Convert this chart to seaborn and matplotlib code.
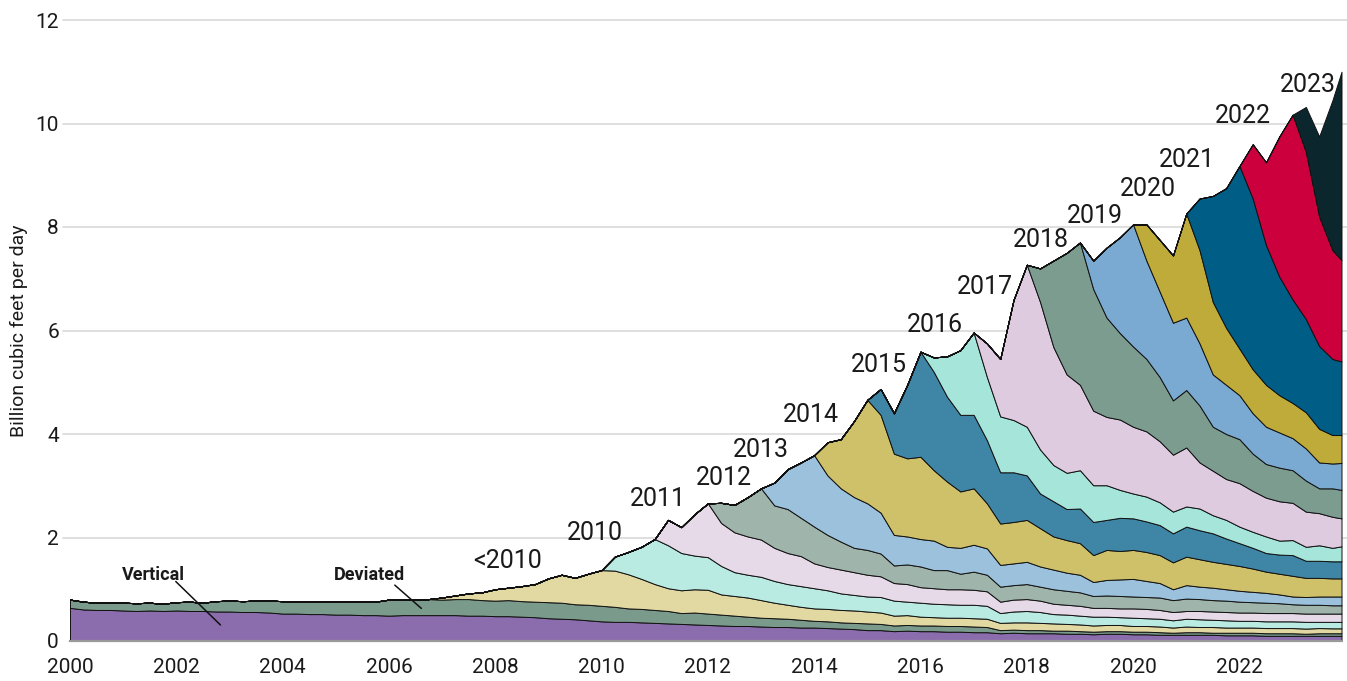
import numpy as np
import pandas as pd
import matplotlib
matplotlib.use("Agg")
import matplotlib.pyplot as plt
import seaborn as sns

# quarterly time axis, last point is Dec 2023
quarters = np.append(np.arange(2000, 2024, 0.25), 2023.92)

# production in Bcf/d by well type / first-production year
# each list starts at the quarter the group first shows up
vertical = [
    0.64, 0.61, 0.60, 0.60, 0.59, 0.58, 0.59, 0.58, 0.59, 0.58, 0.58, 0.57,
    0.57, 0.56, 0.56, 0.55, 0.53, 0.53, 0.52, 0.52, 0.51, 0.51, 0.50, 0.50,
    0.49, 0.50, 0.50, 0.50, 0.50, 0.50, 0.49, 0.49, 0.48, 0.48, 0.47, 0.46,
    0.44, 0.43, 0.42, 0.40, 0.38, 0.37, 0.37, 0.36, 0.35, 0.34, 0.33, 0.32,
    0.31, 0.30, 0.29, 0.29, 0.28, 0.27, 0.27, 0.26, 0.26, 0.25, 0.24, 0.23,
    0.21, 0.21, 0.19, 0.20, 0.19, 0.19, 0.18, 0.18, 0.17, 0.17, 0.15, 0.16,
    0.15, 0.15, 0.15, 0.14, 0.14, 0.13, 0.14, 0.14, 0.13, 0.13, 0.12, 0.12,
    0.12, 0.12, 0.12, 0.11, 0.11, 0.11, 0.10, 0.10, 0.10, 0.10, 0.10, 0.10,
    0.10,
]
deviated = [
    0.16, 0.15, 0.14, 0.14, 0.15, 0.15, 0.15, 0.14, 0.16, 0.18, 0.16, 0.20,
    0.21, 0.21, 0.22, 0.23, 0.24, 0.23, 0.25, 0.24, 0.25, 0.25, 0.27, 0.26,
    0.31, 0.30, 0.30, 0.31, 0.30, 0.31, 0.32, 0.30, 0.30, 0.31, 0.30, 0.30,
    0.31, 0.31, 0.29, 0.30, 0.30, 0.29, 0.26, 0.26, 0.25, 0.24, 0.21, 0.23,
    0.22, 0.21, 0.20, 0.18, 0.17, 0.17, 0.16, 0.15, 0.13, 0.13, 0.12, 0.12,
    0.13, 0.12, 0.11, 0.11, 0.11, 0.11, 0.11, 0.11, 0.11, 0.10, 0.06, 0.06,
    0.06, 0.06, 0.05, 0.06, 0.05, 0.05, 0.05, 0.05, 0.05, 0.05, 0.05, 0.04,
    0.05, 0.05, 0.04, 0.05, 0.05, 0.05, 0.05, 0.05, 0.05, 0.04, 0.05, 0.05,
    0.05,
]
pre_2010 = [
    0.00,
    0.04, 0.07, 0.11, 0.15, 0.22, 0.24, 0.29, 0.34, 0.46, 0.54, 0.51, 0.60,
    0.69, 0.70, 0.66, 0.58, 0.50, 0.44, 0.44, 0.45, 0.46, 0.39, 0.38, 0.37,
    0.34, 0.30, 0.27, 0.25, 0.24, 0.24, 0.24, 0.24, 0.23, 0.22, 0.19, 0.19,
    0.17, 0.16, 0.16, 0.16, 0.16, 0.16, 0.14, 0.14, 0.15, 0.14, 0.14, 0.13,
    0.13, 0.12, 0.12, 0.12, 0.11, 0.11, 0.11, 0.10, 0.11, 0.10, 0.11, 0.10,
    0.10, 0.10, 0.10, 0.10, 0.10, 0.10, 0.10, 0.095,
    0.095,
]
wells_2010 = [
    0.00, 0.27, 0.43, 0.62, 0.87, 0.83, 0.72, 0.65, 0.63, 0.55, 0.46, 0.44,
    0.45, 0.42, 0.40, 0.40, 0.39, 0.36, 0.32, 0.30, 0.29, 0.30, 0.29, 0.26,
    0.27, 0.26, 0.26, 0.25, 0.26, 0.25, 0.19, 0.21, 0.22, 0.21, 0.18, 0.18,
    0.17, 0.17, 0.16, 0.15, 0.16, 0.15, 0.15, 0.14, 0.15, 0.15, 0.14, 0.14,
    0.13, 0.13, 0.13, 0.13, 0.13, 0.13, 0.12, 0.125,
    0.125,
]
wells_2011 = [
    0.00, 0.49, 0.50, 0.80, 1.04, 0.83, 0.77, 0.74, 0.72, 0.64, 0.60, 0.58,
    0.48, 0.45, 0.46, 0.44, 0.42, 0.40, 0.34, 0.34, 0.30, 0.30, 0.29, 0.30,
    0.29, 0.28, 0.22, 0.23, 0.23, 0.22, 0.20, 0.19, 0.19, 0.17, 0.17, 0.17,
    0.18, 0.18, 0.17, 0.16, 0.15, 0.16, 0.16, 0.16, 0.16, 0.16, 0.16, 0.16,
    0.16, 0.16, 0.16, 0.16,
    0.16,
]
wells_2012 = [
    0.00, 0.39, 0.53, 0.76, 0.99, 0.82, 0.85, 0.74, 0.71, 0.62, 0.54, 0.47,
    0.48, 0.44, 0.34, 0.38, 0.40, 0.35, 0.37, 0.30, 0.35, 0.32, 0.29, 0.28,
    0.29, 0.27, 0.28, 0.27, 0.26, 0.23, 0.24, 0.24, 0.23, 0.23, 0.24, 0.23,
    0.24, 0.23, 0.22, 0.22, 0.21, 0.20, 0.20, 0.19, 0.17, 0.17, 0.17, 0.16,
    0.16,
]
wells_2013 = [
    0.00, 0.44, 0.77, 1.07, 1.38, 1.15, 1.03, 0.98, 0.90, 0.79, 0.59, 0.54,
    0.53, 0.57, 0.45, 0.50, 0.52, 0.51, 0.42, 0.42, 0.43, 0.39, 0.38, 0.35,
    0.34, 0.27, 0.30, 0.32, 0.34, 0.31, 0.28, 0.21, 0.26, 0.24, 0.24, 0.22,
    0.21, 0.20, 0.19, 0.17, 0.15, 0.15, 0.16, 0.17,
    0.17,
]
wells_2014 = [
    0.00, 0.64, 0.95, 1.47, 2.00, 1.89, 1.57, 1.51, 1.59, 1.36, 1.26, 1.09,
    1.09, 0.87, 0.80, 0.80, 0.81, 0.74, 0.64, 0.63, 0.61, 0.52, 0.58, 0.55,
    0.56, 0.56, 0.54, 0.52, 0.55, 0.53, 0.50, 0.49, 0.48, 0.45, 0.41, 0.40,
    0.40, 0.37, 0.36, 0.35,
    0.35,
]
wells_2015 = [
    0.00, 0.50, 0.78, 1.42, 2.03, 1.90, 1.64, 1.48, 1.42, 1.22, 0.99, 0.96,
    0.86, 0.67, 0.68, 0.60, 0.67, 0.64, 0.58, 0.64, 0.61, 0.59, 0.58, 0.56,
    0.58, 0.56, 0.55, 0.49, 0.44, 0.40, 0.36, 0.37, 0.40, 0.33, 0.33, 0.33,
    0.33,
]
wells_2016 = [
    0.00, 0.28, 0.78, 1.25, 1.59, 1.22, 1.08, 1.01, 0.94, 0.85, 0.70, 0.70,
    0.74, 0.71, 0.67, 0.54, 0.48, 0.48, 0.44, 0.42, 0.39, 0.42, 0.35, 0.36,
    0.32, 0.31, 0.32, 0.27, 0.29, 0.27, 0.30, 0.26,
    0.29,
]
wells_2017 = [
    0.00, 0.65, 1.11, 2.32, 3.13, 2.85, 2.28, 1.90, 1.65, 1.44, 1.32, 1.36,
    1.29, 1.26, 1.18, 1.10, 1.14, 0.89, 0.86, 0.79, 0.84, 0.79, 0.75, 0.76,
    0.72, 0.68, 0.62, 0.60,
    0.54,
]
wells_2018 = [
    0.00, 0.65, 1.67, 2.35, 2.75, 2.35, 1.92, 1.67, 1.55, 1.40, 1.24, 1.05,
    1.11, 1.10, 0.85, 0.87, 0.85, 0.72, 0.65, 0.65, 0.63, 0.60, 0.48, 0.55,
    0.55,
]
wells_2019 = [
    0.00, 0.55, 1.35, 1.85, 2.36, 1.90, 1.65, 1.50, 1.40, 1.20, 1.01, 0.95,
    0.85, 0.78, 0.72, 0.68, 0.62, 0.62, 0.50, 0.48,
    0.52,
]
wells_2020 = [
    0.00, 0.70, 1.00, 1.30, 2.01, 1.80, 1.40, 1.10, 0.90, 0.85, 0.81, 0.72,
    0.68, 0.70, 0.65, 0.55,
    0.54,
]
wells_2021 = [0.00, 1.00, 2.05, 2.70, 3.53, 3.30, 2.70, 2.29, 2.00, 1.80, 1.60, 1.47, 1.42]
wells_2022 = [0.00, 1.05, 1.60, 2.71, 3.57, 3.23, 2.50, 2.10, 1.96]
wells_2023 = [0.00, 0.87, 1.55, 2.90, 3.64]

groups = ["Vertical", "Deviated", "<2010", "2010", "2011", "2012", "2013", "2014",
          "2015", "2016", "2017", "2018", "2019", "2020", "2021", "2022", "2023"]
group_values = [vertical, deviated, pre_2010, wells_2010, wells_2011, wells_2012,
                wells_2013, wells_2014, wells_2015, wells_2016, wells_2017,
                wells_2018, wells_2019, wells_2020, wells_2021, wells_2022, wells_2023]

df = pd.DataFrame(index=quarters)
for name, vals in zip(groups, group_values):
    df[name] = [0.0] * (len(quarters) - len(vals)) + vals

palette = sns.color_palette([
    "#8b6dae", "#7a9a8c", "#e2d9a2", "#b9ebe2", "#e6d9e8", "#9fb4aa",
    "#9cc1dc", "#cfc06a", "#3f86a6", "#a6e5da", "#dfcbe0", "#7c9c90",
    "#7aaad2", "#bfab3a", "#005d85", "#cc003d", "#0b262c",
])

# label placement (x, text baseline) in data units
year_labels = ["<2010", "2010", "2011", "2012", "2013", "2014", "2015", "2016",
               "2017", "2018", "2019", "2020", "2021", "2022", "2023"]
label_x = [2008.23, 2009.88, 2011.05, 2012.30, 2012.99, 2013.93, 2015.21, 2016.28,
           2017.22, 2018.26, 2019.28, 2020.27, 2021.01, 2022.06, 2023.29]
label_y = [1.41, 1.95, 2.61, 3.01, 3.56, 4.24, 5.20, 5.98,
           6.71, 7.62, 8.08, 8.59, 9.16, 10.01, 10.61]

sns.set_style("white")
plt.rcParams["font.family"] = ["Roboto", "DejaVu Sans"]
text_color = "#1a1a1a"

fig = plt.figure(figsize=(13.47, 6.81), dpi=100)
ax = fig.add_axes([70 / 1347, 40 / 681, 1271.5 / 1347, 621 / 681])

ax.stackplot(df.index, df.T.values, colors=palette, edgecolor="#111111",
             linewidth=0.7, zorder=2)

for y in range(2, 13, 2):
    ax.axhline(y, xmin=-7 / 1271.5, xmax=1277 / 1271.5, color="#dcdcdc", lw=1.3,
               zorder=0, clip_on=False)

for lab, lx, ly in zip(year_labels, label_x, label_y):
    ax.text(lx, ly, lab, ha="center", va="baseline", fontsize=18,
            color=text_color, zorder=5)

# well type call-outs
ax.text(2001.56, 1.18, "Vertical", ha="center", va="baseline", fontsize=13,
        fontweight="bold", color=text_color, zorder=5)
ax.plot([2001.99, 2002.83], [1.15, 0.31], color="#111111", lw=1.1, zorder=4)
ax.text(2005.64, 1.18, "Deviated", ha="center", va="baseline", fontsize=13,
        fontweight="bold", color=text_color, zorder=5)
ax.plot([2006.11, 2006.61], [1.08, 0.63], color="#111111", lw=1.1, zorder=4)

ax.set_xlim(2000, 2023.92)
ax.set_ylim(0, 12)
ax.set_xticks(range(2000, 2023, 2))
ax.set_xticks(range(2001, 2024, 2), minor=True)
ax.set_yticks(range(0, 13, 2))
ax.tick_params(axis="x", which="major", direction="out", length=8, width=1.3,
               color="#9a9a9a", labelsize=15, labelcolor=text_color, pad=4)
ax.tick_params(axis="x", which="minor", direction="out", length=5, width=1.3,
               color="#9a9a9a")
ax.tick_params(axis="y", length=0, labelsize=15, labelcolor=text_color, pad=8)

sns.despine(ax=ax, left=True)
ax.spines["bottom"].set_color("#9a9a9a")
ax.spines["bottom"].set_linewidth(1.6)
ax.spines["bottom"].set_zorder(6)

ax.set_ylabel("Billion cubic feet per day", fontsize=14, color=text_color)
ax.yaxis.set_label_coords(-0.033, 0.5)

fig.savefig("out.png", dpi=100)
